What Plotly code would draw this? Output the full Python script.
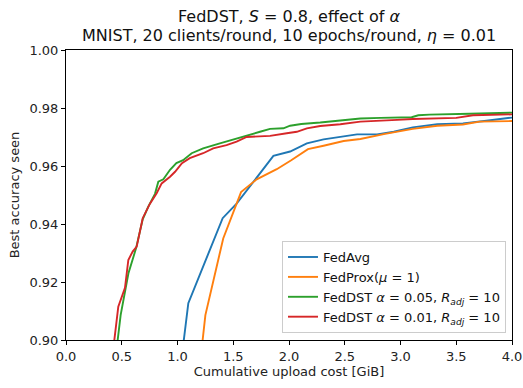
import plotly.graph_objects as go

fedavg_x = [1.055, 1.097, 1.405, 1.53, 1.86, 1.92, 2.01, 2.16, 2.31, 2.61, 2.79, 2.94, 3.11, 3.33, 3.56, 3.77, 4.0]
fedavg_y = [0.8995, 0.9127, 0.942, 0.947, 0.9635, 0.964, 0.965, 0.9678, 0.9692, 0.9709, 0.9709, 0.9718, 0.9733, 0.9744, 0.9747, 0.9756, 0.9767]

fedprox_x = [1.224, 1.25, 1.41, 1.57, 1.71, 1.89, 2.02, 2.17, 2.31, 2.49, 2.64, 2.85, 3.11, 3.33, 3.56, 3.71, 4.0]
fedprox_y = [0.8995, 0.9086, 0.935, 0.951, 0.9554, 0.9589, 0.962, 0.9658, 0.967, 0.9686, 0.9693, 0.971, 0.9728, 0.9739, 0.9743, 0.9753, 0.9755]

dst05_x = [0.462, 0.49, 0.56, 0.628, 0.688, 0.738, 0.798, 0.828, 0.873, 0.933, 0.99, 1.05, 1.127, 1.23, 1.38, 1.53, 1.62, 1.74, 1.83, 1.95, 2.01, 2.11, 2.28, 2.43, 2.64, 2.82, 3.1, 3.16, 3.26, 3.62, 3.86, 4.0]
dst05_y = [0.8995, 0.9086, 0.923, 0.9316, 0.9416, 0.946, 0.9504, 0.9546, 0.9554, 0.9587, 0.961, 0.962, 0.9644, 0.9661, 0.9678, 0.9695, 0.9707, 0.9718, 0.9728, 0.973, 0.9739, 0.9745, 0.975, 0.9755, 0.9764, 0.9766, 0.9768, 0.9775, 0.9777, 0.978, 0.9784, 0.9784]

dst01_x = [0.432, 0.469, 0.529, 0.559, 0.598, 0.634, 0.688, 0.753, 0.813, 0.858, 0.933, 0.978, 1.04, 1.11, 1.23, 1.32, 1.44, 1.53, 1.62, 1.74, 1.83, 1.98, 2.07, 2.16, 2.28, 2.46, 2.64, 2.97, 3.11, 3.5, 3.65, 4.0]
dst01_y = [0.8995, 0.9115, 0.918, 0.9276, 0.9305, 0.9322, 0.942, 0.947, 0.9506, 0.954, 0.9563, 0.958, 0.961, 0.9627, 0.9644, 0.9661, 0.9672, 0.9684, 0.97, 0.9703, 0.9704, 0.9713, 0.9718, 0.973, 0.9738, 0.9744, 0.9753, 0.9759, 0.9762, 0.9766, 0.9775, 0.9778]

names = ["FedAvg", "FedProx(<i>μ</i> = 1)",
         "FedDST <i>α</i> = 0.05, <i>R</i><sub><i>adj</i></sub> = 10",
         "FedDST <i>α</i> = 0.01, <i>R</i><sub><i>adj</i></sub> = 10"]
colors = ["#1f77b4", "#ff7f0e", "#2ca02c", "#d62728"]
xs = [fedavg_x, fedprox_x, dst05_x, dst01_x]
ys = [fedavg_y, fedprox_y, dst05_y, dst01_y]

title_lines = ["FedDST, <i>S</i> = 0.8, effect of <i>α</i>",
               "MNIST, 20 clients/round, 10 epochs/round, <i>η</i> = 0.01"]

fig = go.Figure()
for n, c, x, y in zip(names, colors, xs, ys):
    fig.add_trace(go.Scatter(x=x, y=y, mode="lines", name=n,
                             line=dict(color=c, width=1.9)))

font = "DejaVu Sans, sans-serif"
fig.add_annotation(text=title_lines[0], xref="paper", yref="paper", x=0.5, y=1.1138,
                   xanchor="center", yanchor="middle", showarrow=False,
                   font=dict(size=16, family=font, color="#111"))
fig.add_annotation(text=title_lines[1], xref="paper", yref="paper", x=0.5, y=1.0517,
                   xanchor="center", yanchor="middle", showarrow=False,
                   font=dict(size=16, family=font, color="#111"))

fig.update_layout(
    width=523, height=388,
    margin=dict(l=66, r=11, t=50, b=48, autoexpand=False),
    paper_bgcolor="white", plot_bgcolor="white",
    font=dict(family=font, size=13, color="#222"),
    showlegend=True,
    legend=dict(x=0.9865, y=0.024, xanchor="right", yanchor="bottom",
                bgcolor="rgba(255,255,255,0.8)", bordercolor="#cccccc", borderwidth=1,
                font=dict(size=13, family=font, color="#111"),
                tracegroupgap=0, itemwidth=30),
)
fig.update_xaxes(range=[0, 4], dtick=0.5, tickformat=".1f", showgrid=False, zeroline=False,
                 showline=True, linecolor="black", linewidth=1, mirror=True,
                 ticks="outside", ticklen=4, tickcolor="black", automargin=False,
                 tickfont=dict(size=13, family=font, color="#222"),
                 title=dict(text="Cumulative upload cost [GiB]", standoff=4,
                            font=dict(size=13, family=font, color="#222")))
fig.update_yaxes(range=[0.9, 1.0], dtick=0.02, tickformat=".2f", showgrid=False, zeroline=False,
                 showline=True, linecolor="black", linewidth=1, mirror=True,
                 ticks="outside", ticklen=4, tickcolor="black", automargin=False,
                 tickfont=dict(size=13, family=font, color="#222"),
                 title=dict(text="Best accuracy seen", standoff=6,
                            font=dict(size=13, family=font, color="#222")))
fig.write_html("out.html", config={"displayModeBar": False},
               post_script="document.body.style.margin='0';document.body.style.overflow='hidden';")
